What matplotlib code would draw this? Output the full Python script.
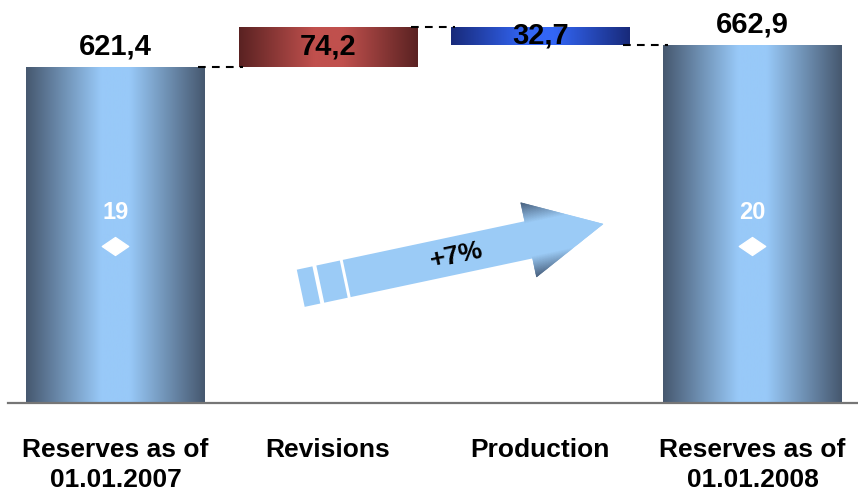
import numpy as np
import matplotlib
matplotlib.use("Agg")
import matplotlib.pyplot as plt
from matplotlib.colors import LinearSegmentedColormap, to_rgb
from matplotlib.patches import Polygon
from matplotlib.path import Path
from matplotlib.transforms import Affine2D

plt.rcParams['font.family'] = ['Liberation Sans', 'DejaVu Sans']
plt.rcParams['font.weight'] = 'bold'

# Reserves waterfall, 2007 -> 2008
categories = ['Reserves as of\n01.01.2007', 'Revisions', 'Production', 'Reserves as of\n01.01.2008']
reserves_2007 = 621.4
revisions = 74.2
production = 32.7
reserves_2008 = 662.9
value_labels = ['621,4', '74,2', '32,7', '662,9']
field_counts = {0: '19', 3: '20'}
growth_label = '+7%'

heights = [reserves_2007, revisions, production, reserves_2008]
bottoms = [0, reserves_2007, reserves_2007 + revisions - production, 0]

# horizontal shading: dark edges, light middle
def shade(dark, light):
    return LinearSegmentedColormap.from_list(
        '', [(0, dark), (0.42, light), (0.58, light), (1, dark)])

cmaps = [shade('#46586f', '#98c9f8'),
         shade('#5a2222', '#c0504d'),
         shade('#182a7a', '#3366f5'),
         shade('#46586f', '#98c9f8')]

fig = plt.figure(figsize=(8.58, 4.97), dpi=100)
ax = fig.add_axes([8 / 858, 94 / 497, 850 / 858, 403 / 497])

x = np.arange(len(categories))
width = 0.84
bars = ax.bar(x, heights, width, bottom=bottoms, color='none', edgecolor='none', zorder=2)

grad = np.linspace(0, 1, 256).reshape(1, -1)
for bar, cm in zip(bars, cmaps):
    bx, by = bar.get_x(), bar.get_y()
    im = ax.imshow(grad, cmap=cm, aspect='auto', zorder=2,
                   extent=[bx, bx + bar.get_width(), by, by + bar.get_height()])
    im.set_clip_path(bar)

# dashed connectors between steps
levels = [reserves_2007, reserves_2007 + revisions, reserves_2008]
for i, lvl in enumerate(levels):
    ax.plot([i + width / 2 - 0.03, i + 1 - width / 2 + 0.02], [lvl, lvl],
            color='black', lw=1.5, ls=(0, (3.7, 3.0)), zorder=3)

# value labels
ax.text(x[0], reserves_2007 + 37, value_labels[0], ha='center', va='center', fontsize=21, zorder=4)
ax.text(x[1], reserves_2007 + revisions / 2, value_labels[1], ha='center', va='center', fontsize=21, zorder=4)
ax.text(x[2], bottoms[2] + production / 2, value_labels[2], ha='center', va='center', fontsize=21, zorder=4)
ax.text(x[3], reserves_2008 + 37, value_labels[3], ha='center', va='center', fontsize=21, zorder=4)

# field counts with diamond marker
diamond = Path([(-1, 0), (0, 0.68), (1, 0), (0, -0.68), (-1, 0)],
               [Path.MOVETO, Path.LINETO, Path.LINETO, Path.LINETO, Path.CLOSEPOLY])
for i, txt in field_counts.items():
    ax.text(x[i], 353, txt, ha='center', va='center', fontsize=17, color='white', zorder=4)
    ax.plot(x[i], 291, marker=diamond, ms=19, color='white', mec='white', zorder=4)

ax.set_xlim(-0.506, 3.497)
ax.set_ylim(0, 745.3)
ax.set_xticks(x)
ax.set_xticklabels(categories, fontsize=19, linespacing=1.35)
ax.tick_params(axis='x', length=0, pad=25)
ax.set_yticks([])
for s in ['top', 'left', 'right']:
    ax.spines[s].set_visible(False)
ax.spines['bottom'].set_color('#767676')
ax.spines['bottom'].set_linewidth(1.6)
ax.spines['bottom'].set_zorder(5)

# growth arrow on a pixel-space overlay
ov = fig.add_axes([0, 0, 1, 1], facecolor='none')
ov.set_xlim(0, 858)
ov.set_ylim(497, 0)
ov.axis('off')

rot = Affine2D().rotate_deg(-12).translate(346.7, 278.5) + ov.transData
shaft_hw, head_hw, shaft_len, tip = 19, 38, 186, 262
light, dark = np.array(to_rgb('#9bcbf6')), np.array(to_rgb('#48607e'))

# shaft and the two tail stripes
for u0, u1 in [(-47, -31), (-27, -3), (0, shaft_len + 1)]:
    ov.add_patch(Polygon([(u0, -shaft_hw), (u1, -shaft_hw), (u1, shaft_hw), (u0, shaft_hw)],
                         closed=True, fc=light, ec='none', transform=rot))

# head, shaded in thin bands from the axis outwards
edges = np.linspace(0, head_hw, 60)
for a, b in zip(edges[:-1], edges[1:]):
    t = np.clip(((a + b) / 2 - 17) / 21, 0, 1)
    col = light * (1 - t) + dark * t
    ua, ub = tip - (tip - shaft_len) * a / head_hw, tip - (tip - shaft_len) * b / head_hw
    for sgn in (1, -1):
        ov.add_patch(Polygon([(shaft_len, sgn * a), (ua, sgn * a), (ub, sgn * b), (shaft_len, sgn * b)],
                             closed=True, fc=col, ec=col, lw=0.4, transform=rot))

ov.text(457, 256, growth_label, ha='center', va='center', rotation=12,
        rotation_mode='anchor', fontsize=19, color='black')
ov.set_xlim(0, 858)
ov.set_ylim(497, 0)

fig.savefig('out.png', dpi=100, facecolor='white')
